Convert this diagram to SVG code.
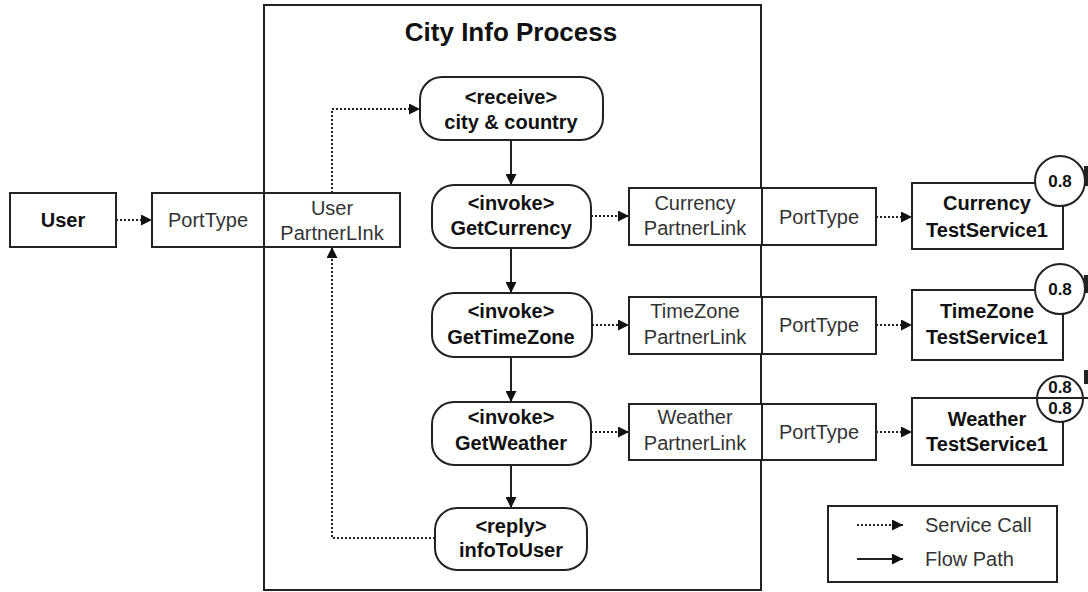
<svg xmlns="http://www.w3.org/2000/svg" width="1088" height="592" viewBox="0 0 1088 592">
  <style>
    .box { fill: #fff; stroke: #222; stroke-width: 2; }
    .node { fill: #fff; stroke: #222; stroke-width: 2; }
    .t { font-family: "Liberation Sans", Arial, sans-serif; font-size: 20px; fill: #333; text-anchor: middle; }
    .b { font-family: "Liberation Sans", Arial, sans-serif; font-size: 20px; font-weight: bold; fill: #111; text-anchor: middle; }
    .q { font-family: "Liberation Sans", Arial, sans-serif; font-size: 17px; font-weight: bold; fill: #111; text-anchor: middle; }
    .title { font-family: "Liberation Sans", Arial, sans-serif; font-size: 26px; font-weight: bold; fill: #111; text-anchor: middle; }
    .call { fill: none; stroke: #222; stroke-width: 2; stroke-dasharray: 2 2; marker-end: url(#head); }
    .flow { fill: none; stroke: #222; stroke-width: 2; marker-end: url(#head); }
    .lg { font-family: "Liberation Sans", Arial, sans-serif; font-size: 20px; fill: #333; }
  </style>
  <defs>
    <marker id="head" markerUnits="userSpaceOnUse" markerWidth="11" markerHeight="11" refX="11" refY="5.5" orient="auto">
      <path d="M0,0 L11,5.5 L0,11 Z" fill="#111"/>
    </marker>
  </defs>

  <rect width="1088" height="592" fill="#fff"/>

  <!-- process container -->
  <g id="process">
    <rect class="box" x="264" y="5" width="497" height="585" fill="none"/>
    <text class="title" x="511" y="41">City Info Process</text>
  </g>

  <!-- user -->
  <g id="user">
    <rect class="box" x="10" y="193" width="106" height="54"/>
    <text class="b" x="63" y="227">User</text>
  </g>

  <g id="user-link">
    <rect class="box" x="152" y="193" width="248" height="54"/>
    <line x1="264" y1="193" x2="264" y2="247" stroke="#222" stroke-width="2"/>
    <text class="t" x="208" y="227">PortType</text>
    <text class="t" x="332" y="215">User</text>
    <text class="t" x="332" y="240">PartnerLInk</text>
  </g>

  <!-- activities -->
  <g id="receive">
    <rect class="node" x="420" y="77" width="183" height="63" rx="22"/>
    <text class="b" x="511" y="104">&lt;receive&gt;</text>
    <text class="b" x="511" y="129">city &amp; country</text>
  </g>
  <g id="get-currency">
    <rect class="node" x="432" y="185" width="159" height="63" rx="22"/>
    <text class="b" x="511" y="210">&lt;invoke&gt;</text>
    <text class="b" x="511" y="235">GetCurrency</text>
  </g>
  <g id="get-timezone">
    <rect class="node" x="432" y="293" width="160" height="64" rx="22"/>
    <text class="b" x="511" y="318">&lt;invoke&gt;</text>
    <text class="b" x="511" y="344">GetTimeZone</text>
  </g>
  <g id="get-weather">
    <rect class="node" x="432" y="402" width="159" height="63" rx="22"/>
    <text class="b" x="511" y="424">&lt;invoke&gt;</text>
    <text class="b" x="511" y="450">GetWeather</text>
  </g>
  <g id="reply">
    <rect class="node" x="435" y="508" width="152" height="62" rx="22"/>
    <text class="b" x="511" y="533">&lt;reply&gt;</text>
    <text class="b" x="511" y="557">infoToUser</text>
  </g>

  <!-- partner links -->
  <g id="currency-link">
    <rect class="box" x="629" y="188" width="247" height="57"/>
    <line x1="762" y1="188" x2="762" y2="245" stroke="#222" stroke-width="2"/>
    <text class="t" x="695" y="210">Currency</text>
    <text class="t" x="695" y="235">PartnerLink</text>
    <text class="t" x="819" y="224">PortType</text>
  </g>
  <g id="timezone-link">
    <rect class="box" x="629" y="297" width="247" height="57"/>
    <line x1="762" y1="297" x2="762" y2="354" stroke="#222" stroke-width="2"/>
    <text class="t" x="695" y="318">TimeZone</text>
    <text class="t" x="695" y="344">PartnerLink</text>
    <text class="t" x="819" y="332">PortType</text>
  </g>
  <g id="weather-link">
    <rect class="box" x="629" y="404" width="247" height="56"/>
    <line x1="762" y1="404" x2="762" y2="460" stroke="#222" stroke-width="2"/>
    <text class="t" x="695" y="424">Weather</text>
    <text class="t" x="695" y="450">PartnerLink</text>
    <text class="t" x="819" y="439">PortType</text>
  </g>

  <!-- services -->
  <g id="currency-service">
    <rect class="box" x="912" y="183" width="151" height="66"/>
    <text class="b" x="987" y="210">Currency</text>
    <text class="b" x="987" y="237">TestService1</text>
    <circle class="node" cx="1060" cy="181" r="25"/>
    <text class="q" x="1060" y="187">0.8</text>
  </g>
  <g id="timezone-service">
    <rect class="box" x="912" y="290" width="151" height="70"/>
    <text class="b" x="987" y="318">TimeZone</text>
    <text class="b" x="987" y="344">TestService1</text>
    <circle class="node" cx="1060" cy="289" r="25"/>
    <text class="q" x="1060" y="295">0.8</text>
  </g>
  <g id="weather-service">
    <rect class="box" x="912" y="398" width="151" height="67"/>
    <text class="b" x="987" y="426">Weather</text>
    <text class="b" x="987" y="451">TestService1</text>
    <circle class="node" cx="1060" cy="399" r="23"/>
    <line x1="1037" y1="398" x2="1088" y2="398" stroke="#222" stroke-width="2"/>
    <text class="q" x="1060" y="393">0.8</text>
    <text class="q" x="1060" y="414">0.8</text>
  </g>

  <!-- marks at the right margin -->
  <g id="edge-marks" fill="#222">
    <rect x="1084" y="166" width="4" height="20"/>
    <rect x="1084" y="275" width="4" height="18"/>
    <rect x="1084" y="370" width="4" height="14"/>
  </g>

  <!-- connectors -->
  <g id="connectors">
    <path class="call" d="M116,220 H152"/>
    <path class="call" d="M332,193 V109 H420"/>
    <path class="flow" d="M511,140 V185"/>
    <path class="call" d="M591,216 H629"/>
    <path class="call" d="M876,217 H912"/>
    <path class="flow" d="M511,248 V293"/>
    <path class="call" d="M592,325 H629"/>
    <path class="call" d="M876,325 H912"/>
    <path class="flow" d="M511,357 V402"/>
    <path class="call" d="M591,432 H629"/>
    <path class="call" d="M876,432 H912"/>
    <path class="flow" d="M511,465 V508"/>
    <path class="call" d="M435,538 H332 V247"/>
  </g>

  <!-- legend -->
  <g id="legend">
    <rect class="box" x="828" y="506" width="229" height="76"/>
    <path class="call" d="M857,525 H903"/>
    <path class="flow" d="M857,559 H903"/>
    <text class="lg" x="925" y="532">Service Call</text>
    <text class="lg" x="925" y="566">Flow Path</text>
  </g>
</svg>
